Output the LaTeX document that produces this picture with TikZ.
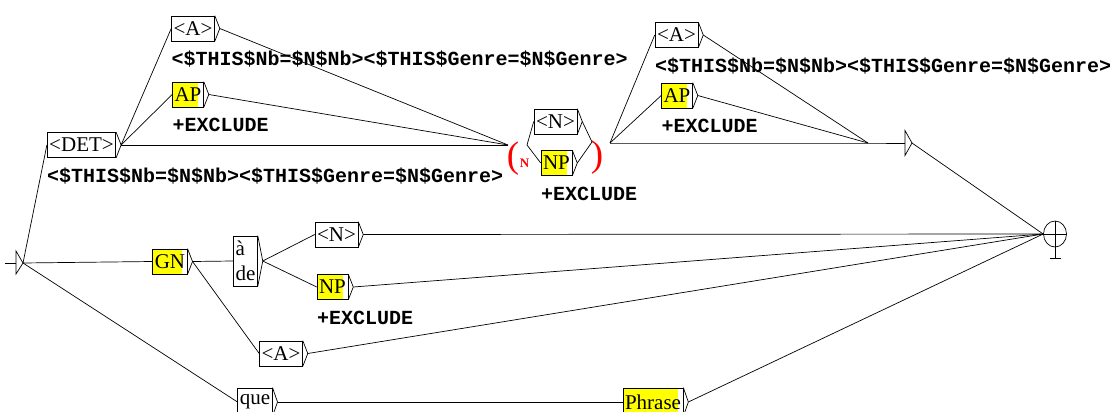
\documentclass[tikz,border=0pt]{standalone}
\usepackage{fontspec}
\setmainfont{Liberation Serif}
\newfontfamily\outfont{Liberation Mono}
\usetikzlibrary{calc,shapes.geometric}
\definecolor{subgr}{HTML}{FFFF00}
\definecolor{varc}{HTML}{FF0000}

\begin{document}
\begin{tikzpicture}[x=1pt,y=-1pt,line width=0.7pt,
  box/.style={draw,font=\fontsize{21}{25}\selectfont,inner xsep=2pt,inner ysep=0pt,minimum height=25pt},
  subg/.style={box,path picture={\fill[subgr] (path picture bounding box.south west) rectangle ([xshift=-5pt]path picture bounding box.north east);}},
  outp/.style={anchor=base west,inner sep=0pt,font=\outfont\bfseries\fontsize{20}{20}\selectfont},
  varp/.style={text=varc,inner sep=0pt,font=\fontsize{37}{37}\selectfont}]
  \useasboundingbox (0,0) rectangle (1112,412);
  \clip (0,0) rectangle (1112,412);
  % boxes
  \node[box] (det) at (81.5,145) {<DET>};
  \node[box] (aa) at (193,28.5) {<A>};
  \node[subg] (apa) at (188,94.5) {AP};
  \node[box] (nn) at (555.5,121.5) {<N>};
  \node[subg] (npa) at (556.5,163) {NP};
  \node[box] (ab) at (676.5,35) {<A>};
  \node[subg] (apb) at (677,95.5) {AP};
  \node[subg] (gn) at (170,261.5) {GN};
  \node[box,align=left,minimum height=50pt] (prep) at (245.5,261) {à\\de};
  \node[box] (nb) at (336.5,234.5) {<N>};
  \node[subg] (npb) at (332.5,287) {NP};
  \node[box] (ac) at (281,353.5) {<A>};
  \node[box,minimum height=28pt] (que) at (255,402) {que};
  \node[subg,minimum height=28pt] (phr) at (653,402) {Phrase};
  \foreach \n in {det,aa,apa,nn,npa,ab,apb,gn,prep,nb,npb,ac,que,phr}
    \draw (\n.north east) -- ($(\n.east)+(5,0)$) coordinate (\n-o) -- (\n.south east);
  % outputs
  \node[outp] (det-out) at ($(det.south west)+(0,24.5)$) {<\$THIS\$Nb=\$N\$Nb><\$THIS\$Genre=\$N\$Genre>};
  \node[outp] (aa-out) at ($(aa.south west)+(0,24.5)$) {<\$THIS\$Nb=\$N\$Nb><\$THIS\$Genre=\$N\$Genre>};
  \node[outp] (ab-out) at ($(ab.south west)+(0,24.5)$) {<\$THIS\$Nb=\$N\$Nb><\$THIS\$Genre=\$N\$Genre>};
  \foreach \n in {apa,npa,apb,npb}
    \node[outp] (\n-out) at ($(\n.south west)+(0,24.5)$) {+EXCLUDE};
  % variable N
  \node[varp] (vopen) at (513,159) {(};
  \node[text=varc,inner sep=0pt,font=\bfseries\fontsize{13}{13}\selectfont] (vname) at (524.5,163) {N};
  \node[varp] (vclose) at (597,158) {)};
  \coordinate (vin) at (508,145);
  \coordinate (vout) at (527,145);
  \coordinate (cin) at (592,142);
  \coordinate (cout) at (610,143);
  % empty box
  \coordinate (ein) at (868,143);
  \coordinate (ebox) at (905,143);
  \draw ($(ebox)+(0,-12.5)$) -- ($(ebox)+(7,0)$) coordinate (ebox-o) -- ($(ebox)+(0,12.5)$) -- cycle;
  % initial and final states
  \coordinate (start) at (5,263);
  \coordinate (init) at (16,263);
  \draw (start) -- (init);
  \draw ($(init)+(0,-12)$) -- ($(init)+(7,0)$) coordinate (init-o) -- ($(init)+(0,11)$) -- cycle;
  \node[draw,ellipse,minimum width=23pt,minimum height=26pt,inner sep=0pt] (fin) at (1055,234) {};
  \draw (fin.west) -- (fin.east);
  \draw (fin.north) -- ($(fin.south)+(0,11)$) coordinate (fin-t);
  \draw ($(fin-t)+(-5.5,0)$) -- ($(fin-t)+(5.5,0)$);
  % transitions
  \draw (init-o) -- (det.west);
  \draw (init-o) -- (gn.west);
  \draw (init-o) -- (que.west);
  \foreach \n in {aa,apa} \draw (det-o) -- (\n.west);
  \foreach \n in {det,aa,apa} \draw (\n-o) -- (vin);
  \foreach \n in {nn,npa} {\draw (vout) -- (\n.west); \draw (\n-o) -- (cin);}
  \foreach \n in {ab,apb} {\draw (cout) -- (\n.west); \draw (\n-o) -- (ein);}
  \draw (cout) -- (ein) -- (ebox);
  \draw (ebox-o) -- (fin.west);
  \draw (gn-o) -- (prep.west);
  \draw (gn-o) -- (ac.west);
  \foreach \n in {nb,npb} \draw (prep-o) -- (\n.west);
  \foreach \n in {nb,npb,ac,phr} \draw (\n-o) -- (fin.west);
  \draw (que-o) -- (phr.west);
\end{tikzpicture}
\end{document}
